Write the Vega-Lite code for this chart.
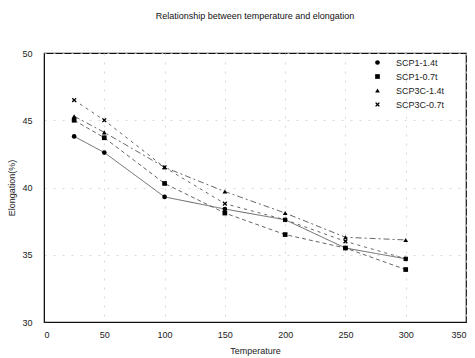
{
  "$schema": "https://vega.github.io/schema/vega-lite/v6.json",
  "autosize": {"type": "none"},
  "padding": {"left": 44, "top": 53, "right": 9, "bottom": 36},
  "width": 422,
  "height": 269,
  "background": "white",
  "title": {"text": "Relationship between temperature and elongation", "fontSize": 9, "font": "Liberation Sans", "fontWeight": "normal", "color": "#111", "anchor": "middle", "offset": 28},
  "config": {
    "view": {"stroke": "#111", "strokeWidth": 1.2},
    "axis": {"labelFont": "Liberation Sans", "titleFont": "Liberation Sans", "labelFontSize": 9, "titleFontSize": 9, "titleFontWeight": "normal", "labelColor": "#222", "titleColor": "#222", "domainColor": "#111", "ticks": false, "grid": true, "gridColor": "#cfcfcf", "gridDash": [2, 7], "gridWidth": 0.8}
  },
  "data": {"values": [
    {"series": "SCP1-1.4t", "t": 25, "e": 43.8},
    {"series": "SCP1-1.4t", "t": 50, "e": 42.6},
    {"series": "SCP1-1.4t", "t": 100, "e": 39.3},
    {"series": "SCP1-1.4t", "t": 150, "e": 38.4},
    {"series": "SCP1-1.4t", "t": 200, "e": 37.6},
    {"series": "SCP1-1.4t", "t": 250, "e": 35.5},
    {"series": "SCP1-1.4t", "t": 300, "e": 34.7},
    {"series": "SCP1-0.7t", "t": 25, "e": 45.0},
    {"series": "SCP1-0.7t", "t": 50, "e": 43.7},
    {"series": "SCP1-0.7t", "t": 100, "e": 40.3},
    {"series": "SCP1-0.7t", "t": 150, "e": 38.1},
    {"series": "SCP1-0.7t", "t": 200, "e": 36.5},
    {"series": "SCP1-0.7t", "t": 250, "e": 35.5},
    {"series": "SCP1-0.7t", "t": 300, "e": 33.9},
    {"series": "SCP3C-1.4t", "t": 25, "e": 45.3},
    {"series": "SCP3C-1.4t", "t": 50, "e": 44.1},
    {"series": "SCP3C-1.4t", "t": 100, "e": 41.5},
    {"series": "SCP3C-1.4t", "t": 150, "e": 39.7},
    {"series": "SCP3C-1.4t", "t": 200, "e": 38.1},
    {"series": "SCP3C-1.4t", "t": 250, "e": 36.3},
    {"series": "SCP3C-1.4t", "t": 300, "e": 36.1},
    {"series": "SCP3C-0.7t", "t": 25, "e": 46.5},
    {"series": "SCP3C-0.7t", "t": 50, "e": 45.0},
    {"series": "SCP3C-0.7t", "t": 100, "e": 41.5},
    {"series": "SCP3C-0.7t", "t": 150, "e": 38.8},
    {"series": "SCP3C-0.7t", "t": 200, "e": 37.6},
    {"series": "SCP3C-0.7t", "t": 250, "e": 36.0},
    {"series": "SCP3C-0.7t", "t": 300, "e": 34.7}
  ]},
  "encoding": {
    "x": {"field": "t", "type": "quantitative", "scale": {"domain": [0, 350], "nice": false}, "axis": {"values": [0, 50, 100, 150, 200, 250, 300, 350], "title": "Temperature", "titleY": 24, "labelPadding": 8}},
    "y": {"field": "e", "type": "quantitative", "scale": {"domain": [30, 50], "nice": false, "zero": false}, "axis": {"values": [30, 35, 40, 45, 50], "title": "Elongation(%)", "titleX": -28, "labelPadding": 12}}
  },
  "layer": [
    {
      "mark": {"type": "line", "strokeWidth": 0.9, "color": "#555"},
      "encoding": {
        "strokeDash": {"field": "series", "type": "nominal", "scale": {"domain": ["SCP1-1.4t", "SCP1-0.7t", "SCP3C-1.4t", "SCP3C-0.7t"], "range": [[1, 0], [4, 3], [6, 3, 2, 3], [3, 4]]},
          "legend": {"title": null, "orient": "none", "legendX": 325, "legendY": 5, "labelFont": "Liberation Sans", "labelFontSize": 9, "labelColor": "#222", "symbolSize": 22, "symbolFillColor": "#000", "symbolStrokeColor": "#000", "rowPadding": 3, "labelOffset": 14, "symbolOffset": 4}}
      }
    },
    {
      "mark": {"type": "point", "filled": true, "size": 22, "color": "#000", "opacity": 1},
      "encoding": {
        "shape": {"field": "series", "type": "nominal", "scale": {"domain": ["SCP1-1.4t", "SCP1-0.7t", "SCP3C-1.4t", "SCP3C-0.7t"], "range": ["circle", "square", "triangle-up", "M-1,-0.6L-0.6,-1L0,-0.4L0.6,-1L1,-0.6L0.4,0L1,0.6L0.6,1L0,0.4L-0.6,1L-1,0.6L-0.4,0Z"]},
          "legend": {"title": null, "orient": "none", "legendX": 325, "legendY": 5, "labelFont": "Liberation Sans", "labelFontSize": 9, "labelColor": "#222", "symbolSize": 22, "symbolFillColor": "#000", "symbolStrokeColor": "#000", "rowPadding": 3, "labelOffset": 14, "symbolOffset": 4}}
      }
    }
  ]
}
